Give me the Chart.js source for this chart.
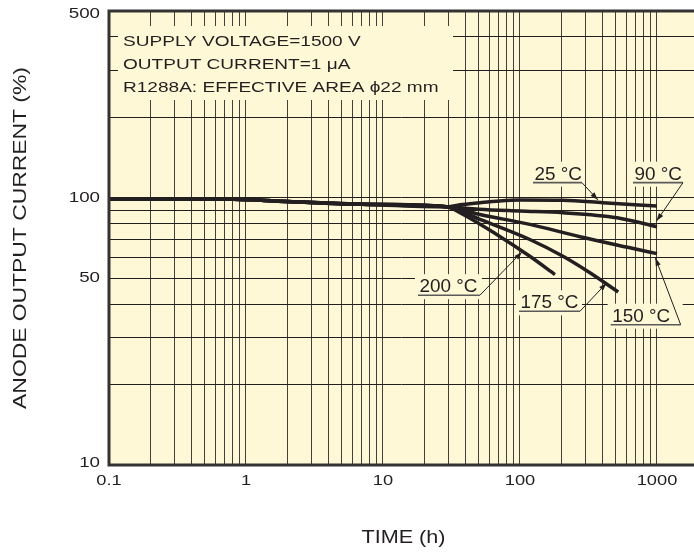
<!DOCTYPE html>
<html>
<head>
<meta charset="utf-8">
<script src="https://cdn.jsdelivr.net/npm/chart.js@4.4.1/dist/chart.umd.min.js"></script>
<style>
  html, body { margin: 0; padding: 0; background: #fff; }
  #wrap { width: 694px; height: 556px; }
</style>
</head>
<body>
<div id="wrap"><canvas id="chart"></canvas></div>
<script>
// values (time in h, anode current in %)
const xTicks = [0.1, 1, 10, 100, 1000];
const xTickLabels = ['0.1', '1', '10', '100', '1000'];
const yTicks = [10, 50, 100, 500];
const yTickLabels = ['10', '50', '100', '500'];

// common part of all curves before they split
const baseTime = [0.1, 0.7, 2, 7, 29];
const baseCurrent = [99, 98.9, 96.8, 94.6, 92.6];

const time25 = [38, 51, 71, 100, 206, 403, 1000];
const current25 = [94.4, 95.9, 97.3, 98.0, 97.8, 95.9, 93.1];
const time90 = [50, 100, 206, 511, 1000];
const current90 = [90.6, 89.2, 87.9, 84.2, 77.9];
const time150 = [51, 118, 274, 635, 1000];
const current150 = [86.6, 79.5, 71.5, 65.0, 61.8];
const time175 = [51, 118, 206, 324, 521];
const current175 = [83.0, 69.8, 60.4, 52.4, 44.4];
const time200 = [38.5, 67.6, 118, 180];
const current200 = [86.6, 72.9, 60.4, 51.6];

const seriesNames = ['25 °C', '90 °C', '150 °C', '175 °C', '200 °C'];

const infoLines = ['SUPPLY VOLTAGE=1500 V', 'OUTPUT CURRENT=1 μA', 'R1288A: EFFECTIVE AREA ϕ22 mm'];

// callouts: underline left/right end and arrow tip, in data units
const callouts = [
  { text: '25 °C',  x0: 124.5, x1: 283.5, y: 113.9, tip: [370.7, 98.2] },
  { text: '90 °C',  x0: 668,   x1: 1548,  y: 113.9, tip: [992, 81.8] },
  { text: '200 °C', x0: 18.0,  x1: 51.0,  y: 43.2,  tip: [103.4, 62.7] },
  { text: '175 °C', x0: 98.3,  x1: 274,   y: 37.6,  tip: [429, 48.0] },
  { text: '150 °C', x0: 459,   x1: 1489,  y: 33.5,  tip: [973, 59.6] }
];

const BG = '#fff8d6';
const INK = '#231f20';
const FONT = "'Liberation Sans', Arial, sans-serif";

function pts(tx, ty) {
  const xs = baseTime.concat(tx), ys = baseCurrent.concat(ty);
  return xs.map((v, i) => ({ x: v, y: ys[i] }));
}

function gridValues(lo, hi) {
  const out = [];
  for (let d = lo; d < hi * 10; d *= 10) {
    for (let k = 1; k <= 9; k++) {
      const v = +(d * k).toPrecision(3);
      if (v >= lo && v <= hi) out.push(v);
    }
  }
  return out;
}

function text(ctx, str, x, y, size, sx, align, base, rot) {
  ctx.save();
  ctx.translate(x, y);
  if (rot) ctx.rotate(-Math.PI / 2);
  ctx.scale(sx, 1);
  ctx.font = size + 'px ' + FONT;
  ctx.fillStyle = INK;
  ctx.textAlign = align;
  ctx.textBaseline = base;
  ctx.fillText(str, 0, 0);
  ctx.restore();
}

function arrow(ctx, x0, y0, x1, y1) {
  ctx.beginPath();
  ctx.moveTo(x0, y0);
  ctx.lineTo(x1, y1);
  ctx.stroke();
  const a = Math.atan2(y1 - y0, x1 - x0);
  const len = 8, w = 2.6;
  ctx.beginPath();
  ctx.moveTo(x1, y1);
  ctx.lineTo(x1 - len * Math.cos(a) + w * Math.sin(a), y1 - len * Math.sin(a) - w * Math.cos(a));
  ctx.lineTo(x1 - len * Math.cos(a) - w * Math.sin(a), y1 - len * Math.sin(a) + w * Math.cos(a));
  ctx.closePath();
  ctx.fill();
}

const decor = {
  id: 'decor',
  beforeDraw(chart) {
    const { ctx, chartArea: a } = chart;
    ctx.save();
    ctx.fillStyle = '#fff';
    ctx.fillRect(0, 0, chart.width, chart.height);
    ctx.fillStyle = BG;
    ctx.fillRect(a.left, a.top, a.right - a.left, a.bottom - a.top);
    ctx.restore();
  },
  afterDatasetsDraw(chart) {
    const { ctx, chartArea: a } = chart;
    const xs = chart.scales.x, ys = chart.scales.y;
    ctx.save();

    // info box
    ctx.fillStyle = BG;
    ctx.fillRect(a.left + 9, a.top + 15, 335, 74);
    infoLines.forEach((s, i) => text(ctx, s, a.left + 14, a.top + 30.5 + i * 23, 15, 1.27, 'left', 'middle'));

    // callouts
    callouts.forEach(c => {
      const l = xs.getPixelForValue(c.x0), r = xs.getPixelForValue(c.x1);
      const y = ys.getPixelForValue(c.y);
      const tx = xs.getPixelForValue(c.tip[0]), ty = ys.getPixelForValue(c.tip[1]);
      ctx.fillStyle = BG;
      ctx.fillRect(l - 3, y - 21, r - l + 5, 25);
      text(ctx, c.text, l + 1.5, y - 3, 18, 1.05, 'left', 'alphabetic');
      ctx.strokeStyle = '#5a5a5a';
      ctx.lineWidth = 1.6;
      ctx.beginPath();
      ctx.moveTo(l, y);
      ctx.lineTo(r, y);
      ctx.stroke();
      ctx.strokeStyle = INK;
      ctx.fillStyle = INK;
      ctx.lineWidth = 1;
      arrow(ctx, r, y, tx, ty);
    });

    // frame: left, top, bottom
    ctx.strokeStyle = '#333';
    ctx.lineWidth = 3;
    ctx.beginPath();
    ctx.moveTo(chart.width, a.top);
    ctx.lineTo(a.left, a.top);
    ctx.lineTo(a.left, a.bottom);
    ctx.lineTo(chart.width, a.bottom);
    ctx.stroke();

    // tick labels
    xTicks.forEach((v, i) => text(ctx, xTickLabels[i], xs.getPixelForValue(v), a.bottom + 16, 15, 1.22, 'center', 'middle'));
    yTicks.forEach((v, i) => {
      let p = ys.getPixelForValue(v);
      p = Math.min(Math.max(p, a.top + 3), a.bottom - 2);
      text(ctx, yTickLabels[i], a.left - 9, p, 15, 1.25, 'right', 'middle');
    });

    // axis titles
    text(ctx, 'TIME (h)', (a.left + a.right) / 2 + 2, a.bottom + 73, 18.8, 1.15, 'center', 'middle');
    text(ctx, 'ANODE OUTPUT CURRENT (%)', 21, (a.top + a.bottom) / 2, 18.6, 1.23, 'center', 'middle', true);

    ctx.restore();
  }
};

const lineStyle = {
  borderColor: INK,
  borderWidth: 3.5,
  pointRadius: 0,
  fill: false,
  cubicInterpolationMode: 'monotone'
};

new Chart(document.getElementById('chart'), {
  type: 'line',
  data: {
    datasets: [
      { label: seriesNames[0], data: pts(time25, current25), ...lineStyle },
      { label: seriesNames[1], data: pts(time90, current90), ...lineStyle },
      { label: seriesNames[2], data: pts(time150, current150), ...lineStyle },
      { label: seriesNames[3], data: pts(time175, current175), ...lineStyle },
      { label: seriesNames[4], data: pts(time200, current200), ...lineStyle }
    ]
  },
  options: {
    responsive: true,
    maintainAspectRatio: false,
    animation: false,
    layout: { padding: { left: 109, top: 11, right: 0, bottom: 91 } },
    plugins: { legend: { display: false }, tooltip: { enabled: false } },
    scales: {
      x: {
        type: 'logarithmic',
        min: 0.1,
        max: 1863,
        ticks: { display: false },
        border: { display: false },
        grid: { color: 'rgba(35,31,32,0.85)', lineWidth: 1, drawTicks: false },
        afterBuildTicks: s => { s.ticks = gridValues(0.1, 1863).map(v => ({ value: v })); }
      },
      y: {
        type: 'logarithmic',
        min: 10,
        max: 500,
        ticks: { display: false },
        border: { display: false },
        grid: { color: INK, lineWidth: 1, drawTicks: false },
        afterBuildTicks: s => { s.ticks = gridValues(10, 500).map(v => ({ value: v })); }
      }
    }
  },
  plugins: [decor]
});
</script>
</body>
</html>
